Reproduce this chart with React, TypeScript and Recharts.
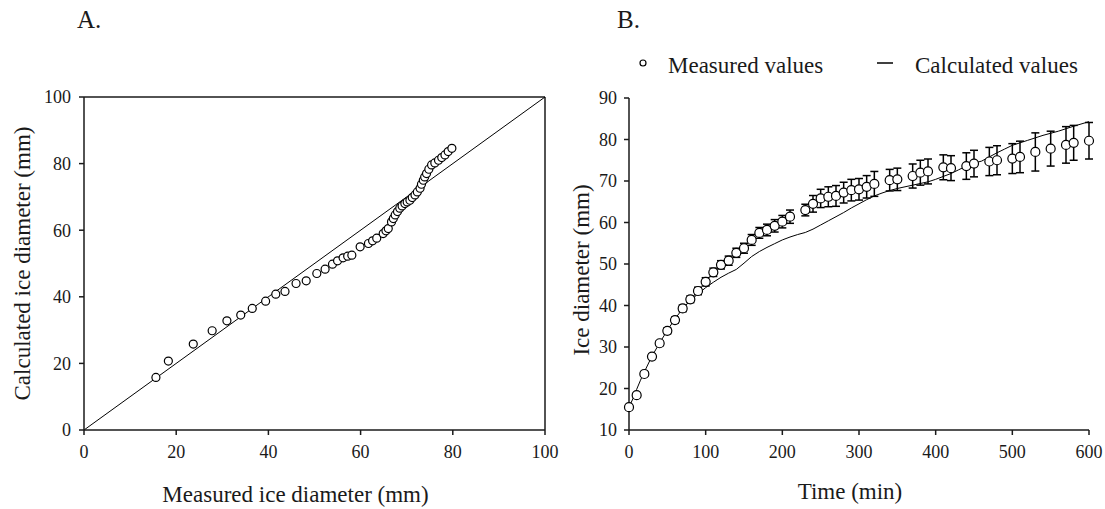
import { ComposedChart, Scatter, Line, XAxis, YAxis, ErrorBar, ReferenceLine } from 'recharts';

// A. measured vs calculated ice diameter (mm)
const measuredDia = [15.6, 18.3, 23.7, 27.8, 31, 34, 36.5, 39.4, 41.6, 43.6, 46, 48.2, 50.5, 52.3, 53.9, 55, 56.2, 57.2, 58.1, 59.9, 61.7, 62.6, 63.5, 64.9, 65.5, 66, 66.7, 67.1, 67.5, 68, 68.5, 69, 69.6, 70.1, 70.7, 71.2, 71.8, 72.3, 72.9, 73.2, 73.6, 73.9, 74.3, 74.8, 75.4, 76.1, 76.9, 77.6, 78.3, 79, 79.8];
const calculatedDia = [15.8, 20.7, 25.8, 29.8, 32.8, 34.5, 36.5, 38.7, 40.8, 41.6, 44, 44.8, 47, 48.3, 49.8, 50.8, 51.7, 52.2, 52.5, 55, 56, 56.8, 57.6, 59, 59.8, 60.5, 62.5, 63.5, 64.6, 65.6, 66.6, 67.3, 68, 68.5, 69, 69.8, 70.6, 71.5, 72.6, 73.8, 75, 76, 77, 78.3, 79.6, 80.2, 81, 81.8, 82.6, 83.6, 84.6];
const identityRange = [0, 100];
const ticksA = [0, 20, 40, 60, 80, 100];

// B. ice diameter over time
const measuredTime = [0, 10, 20, 30, 40, 50, 60, 70, 80, 90, 100, 110, 120, 130, 140, 150, 160, 170, 180, 190, 200, 210, 230, 240, 250, 260, 270, 280, 290, 300, 310, 320, 340, 350, 370, 380, 390, 410, 420, 440, 450, 470, 480, 500, 510, 530, 550, 570, 580, 600];
const measuredIce = [15.5, 18.4, 23.5, 27.7, 30.9, 33.9, 36.5, 39.3, 41.5, 43.5, 45.7, 48, 49.8, 50.8, 52.7, 53.8, 55.8, 57.5, 58.2, 59.2, 60.2, 61.4, 63, 64.5, 65.8, 66.2, 66.4, 67.2, 67.8, 68, 68.6, 69.3, 70.2, 70.4, 71.2, 72, 72.3, 73.3, 73.1, 73.6, 74.2, 74.7, 75, 75.4, 75.8, 77, 77.8, 78.7, 79.2, 79.7];
const measuredErr = [0.3, 0.5, 0.5, 0.6, 0.6, 0.7, 0.7, 0.8, 0.8, 0.9, 1, 1, 1, 1.1, 1.1, 1.2, 1.3, 1.3, 1.4, 1.5, 1.5, 1.6, 1.4, 2, 2.2, 2.4, 2.5, 2.5, 2.6, 2.6, 2.7, 3, 2.6, 2.7, 2.9, 3, 3, 3, 3, 3.2, 3.2, 3.4, 3.5, 3.6, 3.8, 4.6, 4.2, 4.4, 4.2, 4.4];
const calcTime = [0, 5, 10, 15, 20, 30, 40, 50, 60, 70, 80, 90, 100, 110, 120, 130, 140, 150, 160, 170, 180, 190, 200, 210, 220, 230, 240, 250, 260, 270, 280, 290, 300, 310, 320, 330, 340, 350, 360, 370, 380, 390, 400, 410, 420, 430, 440, 450, 460, 470, 480, 490, 500, 520, 540, 560, 580, 600];
const calcIce = [15.5, 17.5, 19.8, 22, 24, 27.8, 31, 34, 36.8, 39.2, 41.2, 42.8, 44.3, 45.6, 46.8, 47.8, 48.7, 50.2, 51.8, 53, 54, 54.9, 55.8, 56.5, 57.1, 57.6, 58.4, 59.4, 60.4, 61.4, 62.4, 63.5, 64.5, 65.5, 66.4, 67.1, 67.7, 68.2, 68.6, 69, 69.4, 69.8, 70.4, 71.1, 71.8, 72.7, 73.6, 74.3, 74.8, 75.8, 76.8, 77.7, 78.6, 79.8, 81, 82, 83.2, 84.3];
const ticksBx = [0, 100, 200, 300, 400, 500, 600];
const ticksBy = [10, 20, 30, 40, 50, 60, 70, 80, 90];

const scatterA = measuredDia.map((x, i) => ({ x, y: calculatedDia[i] }));
const diagonal = identityRange.map(v => ({ x: v, y: v }));
const scatterB = measuredTime.map((t, i) => ({ t, d: measuredIce[i], err: measuredErr[i] }));
const calcLine = calcTime.map((t, i) => ({ t, d: calcIce[i] }));

const FONT = "'Liberation Serif', 'Times New Roman', serif";
const INK = '#1a1a1a';
const tickStyle = { fontSize: 18, fill: INK, fontFamily: FONT };
const axisStroke = { stroke: INK, strokeWidth: 1.5 };

const openCircle = (r: number) => (props: any) => (
  <circle cx={props.cx} cy={props.cy} r={r} fill="#fff" stroke="#000" strokeWidth={1.2} />
);

// axis titles drawn as single-line text (recharts' Label wraps long strings)
const yTitle = (text: string, offset: number, shift = 0) => (props: any) => {
  const { x, y, height } = props.viewBox;
  const cx = x + offset;
  const cy = y + height / 2 + shift;
  return (
    <text x={cx} y={cy} dy="0.35em" textAnchor="middle" transform={`rotate(-90, ${cx}, ${cy})`}
      fontSize={23} fill={INK} fontFamily={FONT}>{text}</text>
  );
};
const xTitle = (text: string, offset: number, shift = 0) => (props: any) => {
  const { x, y, width, height } = props.viewBox;
  return (
    <text x={x + width / 2 + shift} y={y + height - offset} textAnchor="middle"
      fontSize={23} fill={INK} fontFamily={FONT}>{text}</text>
  );
};

export default function App() {
  return (
    <div style={{ position: 'absolute', left: 0, top: 0, width: 1105, height: 509, background: '#fff', fontFamily: FONT, color: INK }}>
      <div style={{ position: 'absolute', left: 77, top: 6, fontSize: 25 }}>A.</div>
      <div style={{ position: 'absolute', left: 617, top: 6, fontSize: 25 }}>B.</div>

      {/* legend for B */}
      <svg style={{ position: 'absolute', left: 0, top: 0 }} width={1105} height={90}>
        <circle cx={643} cy={63} r={3} fill="#fff" stroke="#000" strokeWidth={1.2} />
        <text x={668} y={73} fontSize={23} fill={INK} fontFamily={FONT}>Measured values</text>
        <line x1={877} x2={893} y1={63} y2={63} stroke="#000" strokeWidth={1.5} />
        <text x={915} y={73} fontSize={23} fill={INK} fontFamily={FONT}>Calculated values</text>
      </svg>

      <div style={{ position: 'absolute', left: 0, top: 0 }}>
        <ComposedChart width={560} height={509} margin={{ top: 97, right: 15, bottom: 0, left: 0 }}>
          <XAxis dataKey="x" type="number" domain={[0, 100]} ticks={ticksA} height={79}
            tick={tickStyle} tickSize={5} tickMargin={10} axisLine={axisStroke} tickLine={axisStroke}
            label={{ content: xTitle('Measured ice diameter (mm)', 7, -19) }} />
          <YAxis dataKey="y" type="number" domain={[0, 100]} ticks={ticksA} width={84}
            tick={tickStyle} tickSize={5} tickMargin={8} axisLine={axisStroke} tickLine={axisStroke}
            label={{ content: yTitle('Calculated ice diameter (mm)', 22) }} />
          <ReferenceLine y={100} stroke={INK} strokeWidth={1.5} />
          <ReferenceLine x={100} stroke={INK} strokeWidth={1.5} />
          <Scatter data={scatterA} dataKey="y" shape={openCircle(4)} isAnimationActive={false} />
          <Line data={diagonal} dataKey="y" type="linear" stroke="#000" strokeWidth={1} dot={false} activeDot={false} isAnimationActive={false} />
        </ComposedChart>
      </div>

      <div style={{ position: 'absolute', left: 560, top: 0 }}>
        <ComposedChart width={545} height={509} margin={{ top: 98, right: 16, bottom: 0, left: 0 }}>
          <XAxis dataKey="t" type="number" domain={[0, 600]} ticks={ticksBx} height={79}
            tick={tickStyle} tickSize={5} tickMargin={10} axisLine={axisStroke} tickLine={axisStroke}
            label={{ content: xTitle('Time (min)', 10, -9) }} />
          <YAxis type="number" domain={[10, 90]} ticks={ticksBy} width={69}
            tick={tickStyle} tickSize={5} tickMargin={7} axisLine={axisStroke} tickLine={axisStroke}
            label={{ content: yTitle('Ice diameter (mm)', 21, 6) }} />
          <Line data={calcLine} dataKey="d" type="linear" stroke="#000" strokeWidth={1} dot={false} activeDot={false} isAnimationActive={false} />
          <Scatter data={scatterB} dataKey="d" shape={openCircle(4.5)} isAnimationActive={false}>
            <ErrorBar dataKey="err" direction="y" width={4} stroke="#000" strokeWidth={1.5} />
          </Scatter>
        </ComposedChart>
      </div>
    </div>
  );
}
